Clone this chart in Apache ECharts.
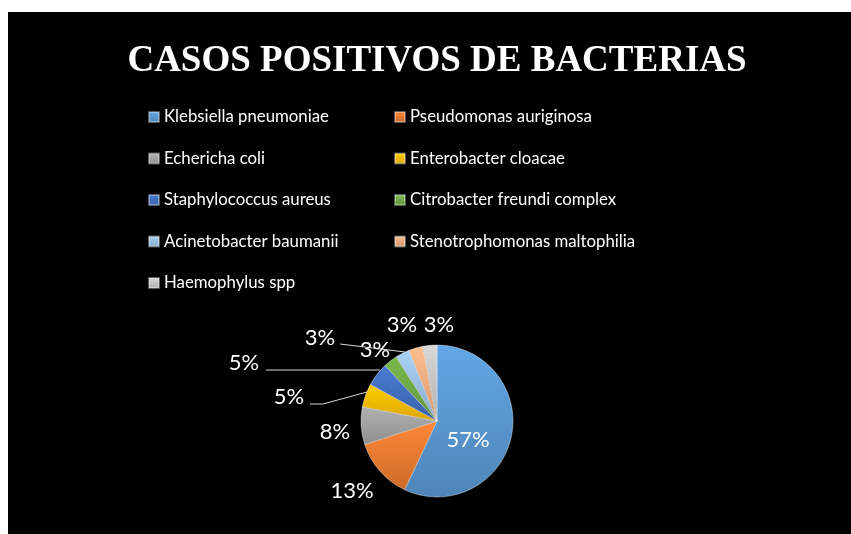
<!DOCTYPE html>
<html>
<head>
<meta charset="utf-8">
<script src="https://cdn.jsdelivr.net/npm/echarts@6/dist/echarts.min.js"></script>
<style>
  html, body { margin: 0; padding: 0; background: #fff; }
  #chart { position: absolute; left: 8px; top: 12px; width: 843px; height: 522px; }
</style>
</head>
<body>
<div id="chart"></div>
<script>
// data
const categories = [
  'Klebsiella pneumoniae', 'Pseudomonas auriginosa', 'Echericha coli', 'Enterobacter cloacae',
  'Staphylococcus aureus', 'Citrobacter freundi complex', 'Acinetobacter baumanii',
  'Stenotrophomonas maltophilia', 'Haemophylus spp'
]
const values = [57, 13, 8, 5, 5, 3, 3, 3, 3]
const colors = ['#5b9bd5', '#ed7d31', '#a5a5a5', '#ffc000', '#4472c4', '#70ad47', '#9dc3e6', '#f4b183', '#c9c9c9']

// label placement (chart px) and leader lines, Excel-like
const labelPos = [
  [460, 428], [344, 479], [327, 420], [281, 385], [236, 351],
  [367, 338], [312, 326], [394, 313], [431, 313]
]
const leaderLines = {
  3: [[302, 392], [315, 392], [359, 380]],
  4: [[258, 358], [372, 358]],
  6: [[332, 332], [397, 340]]
}

function shade(hex, k) {
  const n = parseInt(hex.slice(1), 16)
  const f = c => Math.max(0, Math.min(255, Math.round(c * k)))
  return 'rgb(' + f(n >> 16) + ',' + f((n >> 8) & 255) + ',' + f(n & 255) + ')'
}

const pieData = categories.map((name, i) => ({
  name: name,
  value: values[i],
  itemStyle: {
    color: new echarts.graphic.LinearGradient(0, 0, 0, 1, [
      { offset: 0, color: shade(colors[i], 1.08) },
      { offset: 1, color: shade(colors[i], 0.86) }
    ])
  },
  labelLine: { show: !!leaderLines[i] }
}))

const chart = echarts.init(document.getElementById('chart'))
chart.setOption({
  backgroundColor: '#000',
  title: {
    text: 'CASOS POSITIVOS DE BACTERIAS',
    left: 424,
    top: 26,
    textAlign: 'center',
    textStyle: {
      color: '#fff',
      fontFamily: 'Liberation Serif',
      fontWeight: 'bold',
      fontSize: 37
    }
  },
  legend: [0, 1].map(col => ({
    data: categories.filter((c, i) => i % 2 === col),
    orient: 'vertical',
    left: col === 0 ? 140 : 386,
    top: 95,
    padding: 0,
    icon: 'rect',
    itemWidth: 10,
    itemHeight: 10,
    itemGap: 21.5,
    selectedMode: false,
    textStyle: { color: '#fff', fontFamily: 'Lato', fontSize: 16.8, lineHeight: 20 }
  })),
  series: [{
    type: 'pie',
    center: [429, 409],
    radius: 76,
    startAngle: 90,
    clockwise: true,
    percentPrecision: 0,
    data: pieData,
    itemStyle: { borderColor: 'rgba(255,255,255,0.35)', borderWidth: 0.6 },
    label: {
      show: true,
      formatter: '{d}%',
      color: '#fff',
      fontFamily: 'Lato',
      fontSize: 22
    },
    labelLine: { lineStyle: { color: '#d9d9d9', width: 1 } },
    emphasis: { disabled: true },
    labelLayout: function (p) {
      const pos = labelPos[p.dataIndex]
      const out = { x: pos[0], y: pos[1], align: 'center', verticalAlign: 'middle' }
      if (leaderLines[p.dataIndex]) out.labelLinePoints = leaderLines[p.dataIndex]
      return out
    }
  }]
})
</script>
</body>
</html>
